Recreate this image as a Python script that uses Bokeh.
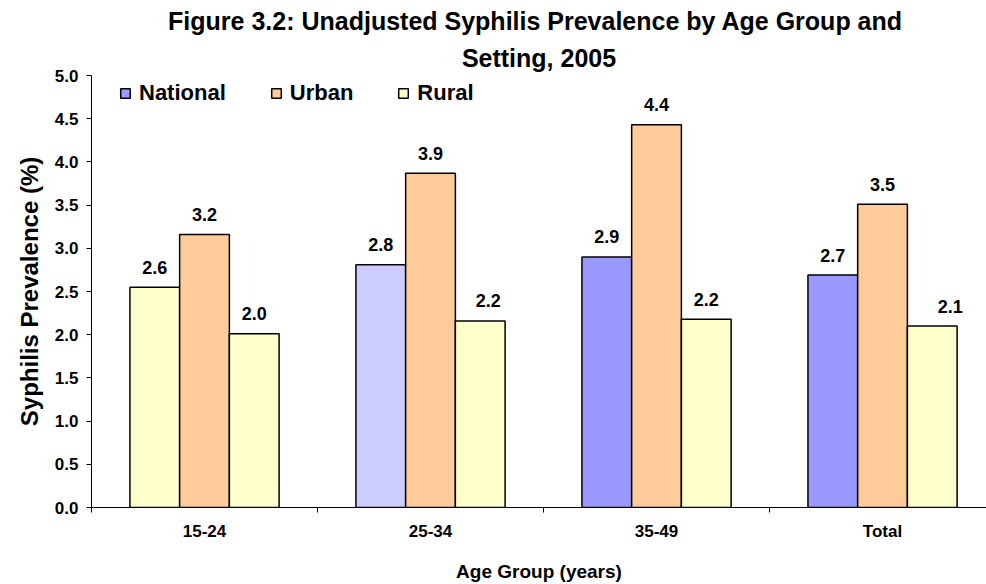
from bokeh.plotting import figure
from bokeh.models import (Range1d, FixedTicker, ColumnDataSource, Legend, LegendItem, Title)
from bokeh.core.properties import value
from bokeh.embed import file_html
from bokeh.resources import INLINE

# ---- data ----
groups = ["15-24", "25-34", "35-49", "Total"]
series = ["National", "Urban", "Rural"]
national = [2.55, 2.81, 2.90, 2.69]
urban = [3.16, 3.87, 4.43, 3.51]
rural = [2.01, 2.16, 2.18, 2.10]
national_labels = ["2.6", "2.8", "2.9", "2.7"]
urban_labels = ["3.2", "3.9", "4.4", "3.5"]
rural_labels = ["2.0", "2.2", "2.2", "2.1"]
y_ticks = [0.0, 0.5, 1.0, 1.5, 2.0, 2.5, 3.0, 3.5, 4.0, 4.5, 5.0]

# ---- styles ----
FONT = "Liberation Sans"
national_colors = ["#FFFFCC", "#CCCCFF", "#9999FF", "#9999FF"]
urban_color = "#FFCC99"
rural_color = "#FFFFCC"
bar_w = 0.22
rural_label_nudge = [0, 8, 0, 18]

centers = [i + 0.5 for i in range(len(groups))]

p = figure(width=986, height=584, output_backend="svg", toolbar_location=None,
           x_range=Range1d(0, 3.96), y_range=Range1d(0, 5),
           min_border_left=91, min_border_right=0, min_border_bottom=76, min_border_top=75)
p.outline_line_color = None
p.xgrid.visible = False
p.ygrid.visible = False
p.background_fill_color = "white"

src_n = ColumnDataSource(dict(x=[c - bar_w for c in centers], top=national, color=national_colors,
                              label=national_labels))
src_u = ColumnDataSource(dict(x=centers, top=urban, label=urban_labels))
src_r = ColumnDataSource(dict(x=[c + bar_w for c in centers], top=rural, label=rural_labels,
                              nudge=rural_label_nudge))

rn = p.vbar(x="x", top="top", width=bar_w, source=src_n, fill_color="color",
            line_color="black", line_width=1.5)
ru = p.vbar(x="x", top="top", width=bar_w, source=src_u, fill_color=urban_color,
            line_color="black", line_width=1.5)
rr = p.vbar(x="x", top="top", width=bar_w, source=src_r, fill_color=rural_color,
            line_color="black", line_width=1.5)

lbl_kw = dict(text_align="center", text_baseline="alphabetic", y_offset=-20,
              text_font=value(FONT), text_font_style="bold", text_font_size="18px",
              text_color="black")
p.text(x="x", y="top", text="label", source=src_n, **lbl_kw)
p.text(x="x", y="top", text="label", source=src_u, **lbl_kw)
p.text(x="x", y="top", text="label", source=src_r, x_offset="nudge", **lbl_kw)

# axes
xa = p.xaxis[0]
xa.ticker = FixedTicker(ticks=centers, minor_ticks=[0, 1, 2, 3, 4])
xa.major_label_overrides = {c: g for c, g in zip(centers, groups)}
xa.major_tick_out = 0
xa.major_tick_in = 0
xa.minor_tick_out = 5
xa.minor_tick_in = 0
xa.minor_tick_line_color = "black"
xa.axis_line_color = "black"
xa.major_label_standoff = 9
xa.major_label_text_font = FONT
xa.major_label_text_font_style = "bold"
xa.major_label_text_font_size = "17px"
xa.major_label_text_color = "black"
xa.axis_label = "Age Group (years)"
xa.axis_label_text_font = FONT
xa.axis_label_text_font_style = "bold"
xa.axis_label_text_font_size = "19px"
xa.axis_label_text_color = "black"
xa.axis_label_standoff = 17

ya = p.yaxis[0]
ya.ticker = FixedTicker(ticks=y_ticks, minor_ticks=[])
ya.major_label_overrides = {t: f"{t:.1f}" for t in y_ticks}
ya.major_tick_out = 5
ya.major_tick_in = 0
ya.major_tick_line_color = "black"
ya.axis_line_color = "black"
ya.major_label_standoff = 8
ya.major_label_text_font = FONT
ya.major_label_text_font_style = "bold"
ya.major_label_text_font_size = "17px"
ya.major_label_text_color = "black"
ya.axis_label = "Syphilis Prevalence (%)"
ya.axis_label_text_font = FONT
ya.axis_label_text_font_style = "bold"
ya.axis_label_text_font_size = "24px"
ya.axis_label_text_color = "black"
ya.axis_label_standoff = 9

# legend
legend = Legend(items=[LegendItem(label=series[0], renderers=[rn], index=2),
                       LegendItem(label=series[1], renderers=[ru]),
                       LegendItem(label=series[2], renderers=[rr])],
                orientation="horizontal", location=(28, 401), padding=8, margin=0,
                spacing=44, glyph_width=12, glyph_height=12, label_standoff=8,
                label_text_font=FONT, label_text_font_style="bold", label_text_font_size="22px",
                label_text_color="black",
                border_line_color=None, background_fill_alpha=0)
p.add_layout(legend, "center")

# titles (second line first, so first line sits on top)
for line, so in [("Setting, 2005", 7), ("Figure 3.2:  Unadjusted Syphilis Prevalence by Age Group and", 7)]:
    t = Title(text=line, align="center", text_font=FONT, text_font_style="bold",
              text_font_size="25px", text_color="black", standoff=so, offset=7)
    p.add_layout(t, "above")

open("out.html", "w").write(file_html(p, INLINE))
